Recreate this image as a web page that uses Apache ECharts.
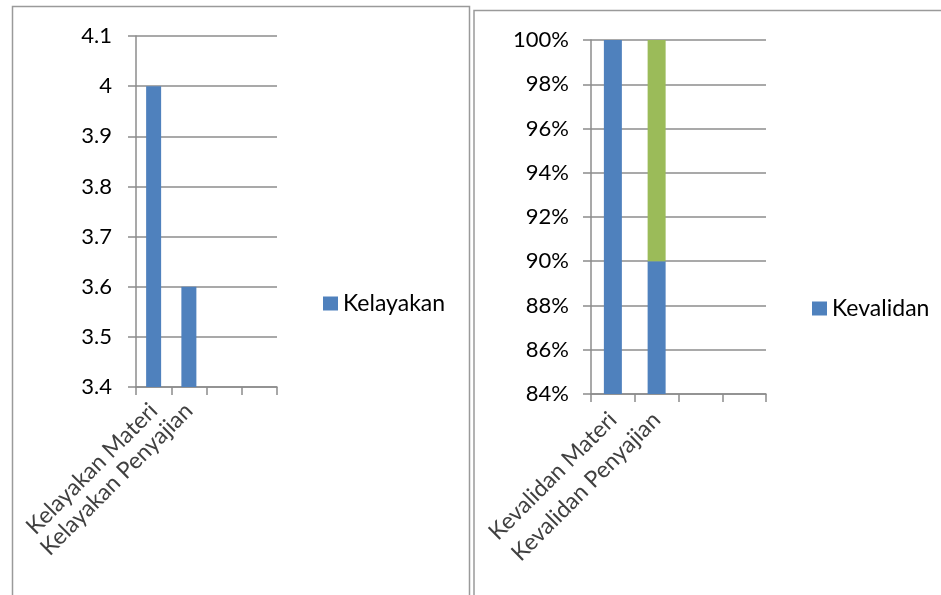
<!DOCTYPE html>
<html>
<head>
<meta charset="utf-8">
<script src="https://cdn.jsdelivr.net/npm/echarts@6/dist/echarts.min.js"></script>
<style>
  html, body { margin: 0; padding: 0; background: #fff; }
  #main { width: 941px; height: 595px; }
</style>
</head>
<body>
<div id="main"></div>
<script>
// data
var kelayakanCats = ['Kelayakan Materi', 'Kelayakan Penyajian', '', ''];
var kelayakanVals = [4.0, 3.6, null, null];

var kevalidanCats = ['Kevalidan Materi', 'Kevalidan Penyajian', '', ''];
var kevalidanVals = [1.0, 0.90, null, null];
var kevalidanRest = [null, 0.10, null, null];

var blue = '#4F81BD';
var green = '#9BBB59';
var grid = '#8c8c8c';
var font = 'Lato, "Open Sans", sans-serif';

var myChart = echarts.init(document.getElementById('main'));

var axisCommon = {
    axisLine: { show: true, lineStyle: { color: grid, width: 1.5 } },
    axisTick: { show: true, length: 8, lineStyle: { color: grid, width: 1.5 } },
    splitLine: { show: true, lineStyle: { color: grid, width: 1.5 } }
};

var option = {
    animation: false,
    textStyle: { fontFamily: font },
    graphic: [
        { type: 'rect', silent: true, shape: { x: 12.5, y: 6.5, width: 457, height: 640 },
          style: { fill: 'none', stroke: '#9a9a9a', lineWidth: 1.5 } },
        { type: 'rect', silent: true, shape: { x: 474, y: 10.5, width: 500, height: 640 },
          style: { fill: 'none', stroke: '#9a9a9a', lineWidth: 1.5 } }
    ],
    legend: [
        { data: ['Kelayakan'], left: 318, top: 287, itemWidth: 15, itemHeight: 14, itemGap: 6,
          icon: 'rect', textStyle: { fontSize: 23, color: '#000', fontFamily: font } },
        { data: ['Kevalidan'], left: 807, top: 292, itemWidth: 15, itemHeight: 14, itemGap: 6,
          icon: 'rect', textStyle: { fontSize: 23, color: '#000', fontFamily: font } }
    ],
    grid: [
        { left: 136, top: 36, width: 141, height: 351 },
        { left: 591, top: 40, width: 175, height: 354 }
    ],
    xAxis: [
        {
            type: 'category', gridIndex: 0, data: kelayakanCats,
            axisLine: { lineStyle: { color: grid, width: 1.5 } },
            axisTick: { show: true, length: 8, alignWithLabel: false, lineStyle: { color: grid, width: 1.5 } },
            axisLabel: { rotate: 45, interval: 0, margin: 20, fontSize: 23, color: '#404040', fontFamily: font }
        },
        {
            type: 'category', gridIndex: 1, data: kevalidanCats,
            axisLine: { lineStyle: { color: grid, width: 1.5 } },
            axisTick: { show: true, length: 8, alignWithLabel: false, lineStyle: { color: grid, width: 1.5 } },
            axisLabel: { rotate: 45, interval: 0, margin: 22, fontSize: 23, color: '#404040', fontFamily: font }
        }
    ],
    yAxis: [
        Object.assign({
            type: 'value', gridIndex: 0, min: 3.4, max: 4.1, interval: 0.1,
            axisLabel: { margin: 24, fontSize: 22, color: '#000', fontFamily: font,
                formatter: function (v) { return String(Math.round(v * 10) / 10); } }
        }, axisCommon),
        Object.assign({
            type: 'value', gridIndex: 1, min: 0.84, max: 1.0, interval: 0.02,
            axisLabel: { margin: 22, fontSize: 22, color: '#000', fontFamily: font,
                formatter: function (v) { return Math.round(v * 100) + '%'; } }
        }, axisCommon)
    ],
    series: [
        { name: 'Kelayakan', type: 'bar', xAxisIndex: 0, yAxisIndex: 0, data: kelayakanVals,
          barWidth: 15, itemStyle: { color: blue } },
        { name: 'Kevalidan', type: 'bar', xAxisIndex: 1, yAxisIndex: 1, data: kevalidanVals,
          stack: 'v', barWidth: 18, itemStyle: { color: blue } },
        { name: 'Series2', type: 'bar', xAxisIndex: 1, yAxisIndex: 1, data: kevalidanRest,
          stack: 'v', barWidth: 18, itemStyle: { color: green } }
    ]
};

myChart.setOption(option);
</script>
</body>
</html>
